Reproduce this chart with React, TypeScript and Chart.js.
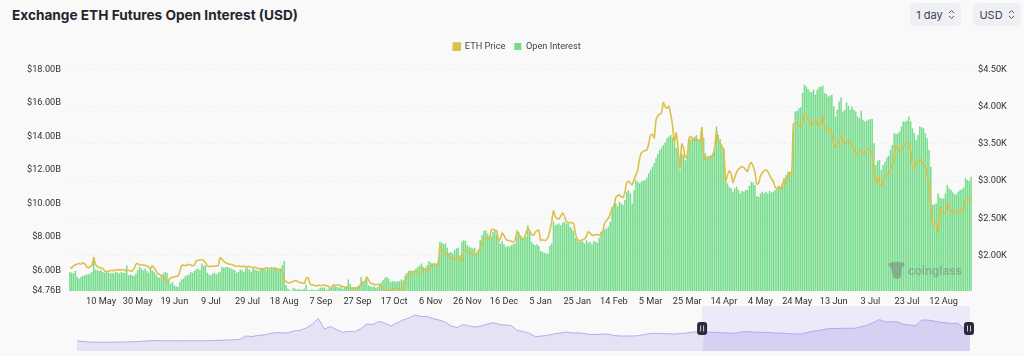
import React, { useEffect, useRef } from "react";
import { Chart, registerables } from "chart.js";

Chart.register(...registerables);

const START_DATE = "2023-04-23";

const oiPart1 = [
  5.9,5.85,5.8,5.95,5.6,5.5,5.6,5.65,5.7,5.75,
  5.75,5.8,5.9,6.7,6.05,6.0,5.95,6.0,5.9,5.85,
  5.9,5.85,5.8,5.85,5.8,5.9,5.85,5.8,5.9,5.85,
  5.85,6.3,5.7,5.75,5.7,5.65,5.8,6.0,6.2,6.1,
  6.0,6.1,5.95,5.85,6.1,6.0,5.9,5.75,5.6,5.55,
  5.7,5.8,5.9,5.85,5.4,5.2,5.3,5.1,5.05,5.0,
  5.3,5.45,5.5,5.65,5.7,5.75,5.9,5.85,5.95,6.05,
  6.1,6.0,6.4,6.25,6.3,5.85,5.75,5.7,5.8,5.85,
  5.75,5.85,5.9,6.2,6.15,6.2,6.2,6.15,6.1,6.05,
  6.0,5.85,5.9,6.05,6.0,5.9,6.1,6.15,6.05,5.9,
];
const oiPart2 = [
  6.15,6.05,6.0,5.95,6.05,6.15,6.1,6.05,6.1,6.05,
  6.2,6.15,6.2,6.1,6.05,6.1,6.3,6.55,5.1,4.9,
  4.82,4.78,4.95,4.9,4.85,4.88,4.83,4.85,4.9,5.15,
  4.82,4.8,4.85,4.83,4.8,4.82,4.9,4.95,4.98,4.95,
  4.8,4.88,4.9,4.95,5.1,5.05,5.0,4.95,5.05,4.9,
  4.95,5.05,5.45,5.2,5.0,5.0,4.95,5.05,5.1,5.6,
  5.3,5.35,5.6,5.1,5.05,5.0,5.05,4.95,5.0,5.15,
  5.25,5.4,5.55,5.6,5.5,5.3,5.35,5.35,5.3,5.35,
  5.35,5.45,5.4,5.7,5.85,5.95,6.0,5.95,6.0,6.1,
  6.2,6.3,6.4,6.2,6.1,6.3,6.55,6.45,6.4,6.45,
];
const oiPart3 = [
  6.4,6.45,7.7,7.65,7.55,7.6,7.35,7.05,7.1,7.0,
  7.2,7.3,7.35,6.9,7.7,7.8,7.75,7.5,7.4,7.35,
  7.3,7.35,7.0,7.2,7.8,8.1,8.35,8.4,8.2,8.05,
  8.0,8.3,8.4,8.15,7.85,7.6,7.75,7.55,7.4,7.45,
  7.4,7.5,7.55,7.6,8.4,8.3,8.1,7.95,7.9,8.0,
  8.7,8.3,7.7,7.55,7.5,7.55,7.45,7.15,7.1,7.05,
  7.0,7.0,7.45,7.6,8.9,8.7,8.75,8.8,8.7,8.85,
  8.9,8.8,8.8,8.6,8.5,8.35,7.95,7.85,7.7,7.75,
  7.7,7.6,7.8,7.65,7.7,7.55,7.75,7.7,7.65,7.95,
  8.3,8.35,8.45,8.5,8.6,8.9,9.8,9.95,10.0,9.85,
];
const oiPart4 = [
  10.1,10.0,9.9,10.2,10.7,10.8,10.6,10.0,10.8,11.4,
  11.3,11.2,11.3,11.35,11.4,11.55,11.8,12.0,12.2,12.4,
  12.7,12.95,13.2,13.35,13.5,13.65,13.9,14.0,14.1,13.95,
  13.6,13.35,13.2,12.0,13.0,12.9,12.6,12.8,13.8,13.85,
  13.9,14.0,14.1,13.85,13.8,14.55,13.9,13.0,12.8,12.85,
  12.9,13.0,13.3,14.6,14.1,13.85,13.5,13.3,11.5,11.2,
  11.0,10.9,10.7,10.9,11.0,10.8,10.6,10.75,10.7,10.8,
  10.8,11.05,11.3,11.25,11.1,10.45,10.4,10.6,10.7,10.6,
  10.7,10.6,10.75,10.65,10.7,10.8,10.85,10.9,11.0,11.2,
  11.5,11.7,11.9,11.85,11.8,14.4,15.5,15.55,15.7,15.75,
];
const oiPart5 = [
  16.6,17.1,17.0,16.85,16.7,16.65,16.8,16.5,16.8,16.95,
  17.0,17.05,16.6,16.55,16.4,16.45,16.5,15.8,15.2,15.6,
  16.1,16.35,15.5,15.6,16.05,15.85,15.6,15.8,15.6,15.5,
  15.2,15.1,15.55,15.0,14.9,14.95,15.0,15.05,15.05,13.6,
  12.3,12.55,12.6,12.0,12.3,12.5,12.75,12.85,13.2,13.5,
  14.2,14.15,14.2,14.3,14.6,14.9,14.9,14.95,15.2,14.9,
  14.5,14.2,13.8,14.1,14.6,14.55,14.5,14.2,13.9,13.2,
  12.2,9.9,9.95,10.0,10.6,10.35,10.3,10.3,10.6,11.1,
  10.9,10.8,10.65,10.55,10.55,10.7,10.8,10.85,10.95,11.5,
  11.4,11.35,11.6,
];

const ethPart1 = [
  1.84,1.83,1.86,1.87,1.885,1.89,1.88,1.9,1.885,1.85,
  1.83,1.85,1.86,1.97,1.88,1.85,1.835,1.83,1.82,1.79,
  1.78,1.79,1.79,1.8,1.79,1.81,1.8,1.81,1.8,1.81,
  1.8,1.79,1.8,1.79,1.79,1.82,1.88,1.89,1.87,1.87,
  1.87,1.865,1.86,1.84,1.82,1.86,1.83,1.79,1.75,1.74,
  1.72,1.71,1.68,1.655,1.67,1.7,1.7,1.71,1.72,1.72,
  1.78,1.86,1.87,1.86,1.87,1.88,1.87,1.86,1.87,1.93,
  1.93,1.94,1.94,1.93,1.9,1.86,1.85,1.85,1.86,1.85,
  1.86,1.86,1.97,1.95,1.92,1.9,1.89,1.88,1.88,1.87,
  1.86,1.85,1.86,1.85,1.85,1.86,1.84,1.85,1.85,1.84,
];
const ethPart2 = [
  1.84,1.84,1.83,1.82,1.82,1.81,1.82,1.83,1.83,1.82,
  1.82,1.825,1.82,1.82,1.81,1.81,1.78,1.66,1.65,1.63,
  1.63,1.64,1.65,1.66,1.655,1.64,1.63,1.63,1.62,1.69,
  1.7,1.62,1.6,1.6,1.59,1.59,1.6,1.59,1.6,1.6,
  1.59,1.585,1.55,1.58,1.6,1.6,1.6,1.6,1.59,1.58,
  1.57,1.57,1.56,1.56,1.55,1.56,1.56,1.56,1.58,1.62,
  1.64,1.64,1.71,1.67,1.63,1.62,1.61,1.6,1.61,1.61,
  1.58,1.55,1.53,1.53,1.52,1.52,1.53,1.55,1.56,1.55,
  1.54,1.54,1.58,1.64,1.71,1.73,1.75,1.77,1.78,1.79,
  1.78,1.76,1.78,1.82,1.82,1.8,1.8,1.84,1.87,1.87,
];
const ethPart3 = [
  1.87,1.88,2.12,2.08,2.04,2.02,2.02,1.99,1.96,1.94,
  1.95,1.97,1.98,1.93,1.92,2.05,2.06,2.05,2.05,2.03,
  2.02,2.0,2.02,2.06,2.1,2.16,2.22,2.22,2.23,2.21,
  2.34,2.35,2.34,2.33,2.2,2.22,2.3,2.27,2.22,2.2,
  2.2,2.19,2.18,2.2,2.31,2.28,2.25,2.21,2.24,2.3,
  2.37,2.33,2.28,2.27,2.31,2.33,2.34,2.2,2.21,2.2,
  2.21,2.24,2.33,2.45,2.6,2.52,2.5,2.49,2.53,2.57,
  2.53,2.46,2.44,2.44,2.44,2.43,2.3,2.22,2.2,2.2,
  2.21,2.22,2.26,2.32,2.3,2.27,2.27,2.28,2.28,2.27,
  2.29,2.33,2.44,2.47,2.5,2.56,2.63,2.65,2.78,2.8,
];
const ethPart4 = [
  2.82,2.79,2.78,2.85,2.98,3.0,2.97,2.95,3.02,3.08,
  3.15,3.3,3.38,3.4,3.41,3.42,3.5,3.62,3.63,3.58,
  3.82,3.88,3.9,3.92,4.06,4.0,3.98,4.01,3.9,3.75,
  3.52,3.65,3.45,3.17,3.5,3.45,3.32,3.33,3.58,3.6,
  3.56,3.53,3.57,3.55,3.53,3.72,3.35,3.28,3.29,3.31,
  3.33,3.35,3.45,3.68,3.52,3.52,3.46,3.42,3.0,3.08,
  3.14,3.1,2.98,3.05,3.12,3.16,3.18,3.2,3.18,3.15,
  3.13,3.22,3.25,3.2,3.12,2.96,2.97,3.07,3.11,3.14,
  3.15,3.13,3.08,3.03,3.0,2.92,2.9,2.93,2.88,2.95,
  3.03,2.96,3.05,3.12,3.08,3.77,3.78,3.78,3.75,3.74,
];
const ethPart5 = [
  3.78,3.9,3.88,3.84,3.78,3.75,3.8,3.82,3.76,3.75,
  3.78,3.88,3.75,3.68,3.68,3.7,3.62,3.5,3.45,3.48,
  3.55,3.61,3.55,3.5,3.53,3.54,3.52,3.5,3.45,3.36,
  3.38,3.39,3.41,3.36,3.38,3.41,3.43,3.42,3.39,3.1,
  2.98,3.06,2.96,2.93,3.0,3.07,3.09,3.1,3.14,3.23,
  3.3,3.48,3.45,3.39,3.42,3.47,3.5,3.52,3.48,3.43,
  3.2,3.17,3.25,3.26,3.3,3.26,3.22,3.19,3.1,2.92,
  2.69,2.41,2.42,2.43,2.31,2.65,2.6,2.56,2.58,2.7,
  2.67,2.6,2.56,2.58,2.59,2.6,2.56,2.62,2.62,2.75,
  2.76,2.76,2.71,
];

const overviewValues = [
  5,4.75,4.5,4.4,4.35,4.35,4.4,4.45,4.5,4.6,4.75,4.9,5.1,5.2,5.15,5.1,5.15,5.1,5.15,5.1,5.15,5.1,5.2,5.25,5.35,5.5,5.6,5.85,
  7.5,7.25,7.75,8,8.75,9.25,9,9.15,10,10.4,11.5,13.5,16.25,11,12.25,10.75,9.4,9.75,9.6,11,13.5,13.25,14.75,14,12.5,14,15.5,16.5,
  18,17.25,17.25,16.25,15.5,14.5,12.5,11.75,13.25,12.5,12,12.5,13.5,14.15,13.25,13,12.65,10.25,9.75,8.85,7.15,7.5,7.85,8.5,9,9.5,9,9.1,
  8.75,8.25,8.25,8.4,8.5,7.75,7.5,7.5,7.5,7.65,8.25,8.75,8.85,8.75,8.6,8.5,8.75,9,9.4,9.65,9.5,9.4,9.35,9.1,9,8.85,9.5,9.65,9.5,9.4,9.35,
  9.15,9,8.85,8.65,8.5,8.5,9.25,10,10.25,10.9,11.35,11.25,11.35,11.4,11.35,12.25,13,14.25,15.75,14.5,14.65,14.5,13.35,13,12.65,15.5,15.5,
  15,14.35,14.15,13.75,13.85,11.35,12.15,
];

const leftTicks = [4.76, 6, 8, 10, 12, 14, 16, 18];
const rightTicks = [2, 2.5, 3, 3.5, 4, 4.5];

const oiValues = [...oiPart1, ...oiPart2, ...oiPart3, ...oiPart4, ...oiPart5];
const ethValues = [...ethPart1, ...ethPart2, ...ethPart3, ...ethPart4, ...ethPart5];

const MONTHS = ["Jan","Feb","Mar","Apr","May","Jun","Jul","Aug","Sep","Oct","Nov","Dec"];
const startMs = Date.parse(START_DATE + "T00:00:00Z");
const categories = oiValues.map((_, i) => {
  const d = new Date(startMs + i * 86400000);
  return `${d.getUTCDate()} ${MONTHS[d.getUTCMonth()]}`;
});

const FONT = "Roboto";
const FONT_SIZE = 9.2;
const TEXT = "#333";

const legendGap = {
  id: "legendGap",
  beforeInit(chart: any) {
    const fit = chart.legend.fit;
    chart.legend.fit = function () {
      fit.call(this);
      this.height += 8.5;
    };
    const draw = chart.legend.draw;
    chart.legend.draw = function () {
      chart.ctx.save();
      chart.ctx.translate(5, 0);
      draw.call(this);
      chart.ctx.restore();
    };
  },
};

const selectionBand = {
  id: "selectionBand",
  beforeDatasetsDraw(chart: any) {
    const { ctx, chartArea: a } = chart;
    const s = a.left + (a.right - a.left) * 0.7;
    ctx.save();
    ctx.fillStyle = "rgba(190,170,245,0.2)";
    ctx.fillRect(s, a.top, a.right - s, a.bottom - a.top);
    ctx.restore();
  },
  afterDraw(chart: any) {
    const { ctx, chartArea: a } = chart;
    const s = a.left + (a.right - a.left) * 0.7;
    const cy = (a.top + a.bottom) / 2;
    ctx.save();
    ctx.fillStyle = "rgba(170,145,240,0.22)";
    ctx.beginPath();
    const meta = chart.getDatasetMeta(0).data;
    ctx.moveTo(s, a.bottom);
    meta.forEach((p: any) => { if (p.x >= s) ctx.lineTo(p.x, p.y); });
    ctx.lineTo(a.right, a.bottom);
    ctx.closePath();
    ctx.fill();
    [s, a.right - 1].forEach((x: number) => {
      ctx.fillStyle = "#2b2a3c";
      ctx.beginPath();
      ctx.roundRect(x - 5, cy - 6.5, 10, 13, 3);
      ctx.fill();
      ctx.fillStyle = "#c9c9d2";
      ctx.fillRect(x - 2, cy - 3, 1, 6);
      ctx.fillRect(x + 1, cy - 3, 1, 6);
    });
    ctx.restore();
  },
};

function Selector({ label, left, width }: { label: string; left: number; width: number }) {
  return (
    <div style={{ position: "absolute", left, top: 3, width, height: 23, background: "#eff0f3", borderRadius: 5,
      display: "flex", alignItems: "center", justifyContent: "center", gap: 5, fontFamily: "Inter", fontSize: 11, color: "#3d4350" }}>
      <span>{label}</span>
      <svg width="7" height="11" viewBox="0 0 7 11">
        <path d="M1 4 L3.5 1.5 L6 4 M1 7 L3.5 9.5 L6 7" fill="none" stroke="#555" strokeWidth="1" />
      </svg>
    </div>
  );
}

export default function App() {
  const mainRef = useRef<HTMLCanvasElement | null>(null);
  const miniRef = useRef<HTMLCanvasElement | null>(null);

  useEffect(() => {
    document.body.style.margin = "0";
    document.body.style.background = "#f9f9f9";
    const main = new Chart(mainRef.current as HTMLCanvasElement, {
      type: "bar",
      plugins: [legendGap],
      data: {
        labels: categories,
        datasets: [
          { type: "line", label: "ETH Price", data: ethValues, yAxisID: "yPrice", borderColor: "#dcc04c", backgroundColor: "#dcc04c",
            borderWidth: 1.6, pointRadius: 0, tension: 0.2, order: 0 },
          { type: "bar", label: "Open Interest", data: oiValues, yAxisID: "yOi", backgroundColor: "#74dc8a",
            barPercentage: 0.8, categoryPercentage: 1, order: 1 },
        ],
      } as any,
      options: {
        responsive: false,
        animation: false,
        layout: { padding: { top: 33, left: 0, right: 0, bottom: 0 } },
        plugins: {
          tooltip: { enabled: false },
          title: { display: false },
          legend: {
            position: "top",
            labels: { boxWidth: 7, boxHeight: 7, padding: 9, color: "#444", font: { family: FONT, size: FONT_SIZE } },
          },
        },
        scales: {
          x: {
            offset: true,
            grid: { display: false, drawTicks: false },
            border: { display: false },
            afterFit(s: any) { s.height = 29; },
            ticks: {
              autoSkip: false, maxRotation: 0, minRotation: 0, padding: 5, color: TEXT, font: { family: FONT, size: FONT_SIZE },
              callback(this: any, _v: any, i: number) { return i % 20 === 17 ? categories[i] : null; },
            },
          },
          yOi: {
            position: "left", min: 4.76, max: 18,
            grid: { display: false, drawTicks: false },
            border: { display: false },
            afterFit(s: any) { s.width = 69; },
            afterBuildTicks(s: any) { s.ticks = leftTicks.map((value) => ({ value })); },
            ticks: { padding: 8, color: TEXT, font: { family: FONT, size: FONT_SIZE }, callback: (v: any) => `$${Number(v).toFixed(2)}B` },
          },
          yPrice: {
            position: "right", min: 1.52, max: 4.5,
            grid: { color: "#f0f0f0", drawTicks: false },
            border: { display: false, dash: [3, 3] },
            afterFit(s: any) { s.width = 52; },
            afterBuildTicks(s: any) { s.ticks = rightTicks.map((value) => ({ value })); },
            ticks: { padding: 6, color: TEXT, font: { family: FONT, size: FONT_SIZE }, callback: (v: any) => `$${Number(v).toFixed(2)}K` },
          },
        },
      } as any,
    });
    const mini = new Chart(miniRef.current as HTMLCanvasElement, {
      type: "line",
      plugins: [selectionBand],
      data: {
        labels: overviewValues.map((_, i) => String(i)),
        datasets: [
          { data: overviewValues, borderColor: "#b7abf0", backgroundColor: "#e6e2f3", borderWidth: 1, pointRadius: 0, fill: "origin", tension: 0 },
        ],
      } as any,
      options: {
        responsive: false,
        animation: false,
        layout: { padding: { top: 6, left: 77, right: 54, bottom: 5 } },
        plugins: { legend: { display: false }, tooltip: { enabled: false } },
        scales: {
          x: { display: false, offset: false },
          y: { display: false, min: 0, max: 22.5 },
        },
      } as any,
    });
    return () => { main.destroy(); mini.destroy(); };
  }, []);

  return (
    <div style={{ position: "relative", width: 1024, height: 356, overflow: "hidden", background: "#f9f9f9" }}>
      <div style={{ position: "absolute", left: 12, top: 6, fontFamily: "Inter", fontWeight: 700, fontSize: 13.65, lineHeight: "18px", color: "#23262e", whiteSpace: "nowrap" }}>
        Exchange ETH Futures Open Interest (USD)
      </div>
      <Selector label="1 day" left={910} width={51} />
      <Selector label="USD" left={973} width={48} />
      <canvas ref={mainRef} width={1024} height={320} style={{ position: "absolute", left: 0, top: 0 }} />
      <canvas ref={miniRef} width={1024} height={356 - 300} style={{ position: "absolute", left: 0, top: 300 }} />
      <div style={{ position: "absolute", left: 888, top: 261, display: "flex", alignItems: "center", gap: 3, color: "rgba(120,120,120,0.45)" }}>
        <svg width="17" height="20" viewBox="0 0 17 20">
          <path d="M0 3 C3 0 14 0 17 3 L14 7 L13 15 C12 19 6 19 5 15 L3 7 Z" fill="rgba(120,120,120,0.5)" />
        </svg>
        <span style={{ fontFamily: "Inter", fontWeight: 700, fontSize: 11.5 }}>coinglass</span>
      </div>
    </div>
  );
}
